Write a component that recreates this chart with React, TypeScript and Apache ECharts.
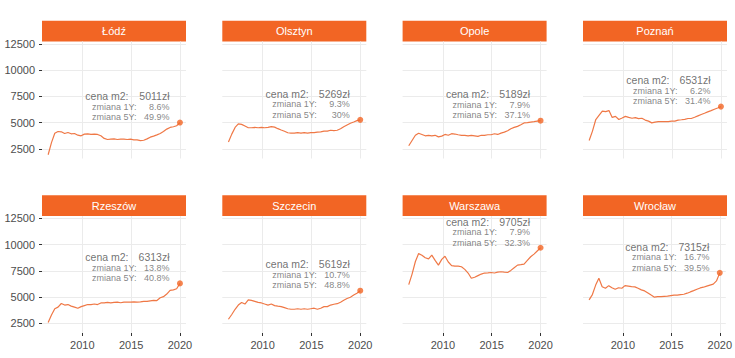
import React, { useEffect, useRef } from 'react';
import * as echarts from 'echarts';

const CITIES = ['Łódź', 'Olsztyn', 'Opole', 'Poznań', 'Rzeszów', 'Szczecin', 'Warszawa', 'Wrocław'];

const DATES = [
  2006.50, 2006.84, 2007.18, 2007.51, 2007.85, 2008.19, 2008.53, 2008.86, 2009.20, 2009.54,
  2009.88, 2010.21, 2010.55, 2010.89, 2011.23, 2011.56, 2011.90, 2012.24, 2012.58, 2012.91,
  2013.25, 2013.59, 2013.93, 2014.26, 2014.60, 2014.94, 2015.28, 2015.61, 2015.95, 2016.29,
  2016.63, 2016.96, 2017.30, 2017.64, 2017.98, 2018.31, 2018.65, 2018.99, 2019.33, 2019.66,
  2020.00,
];

const LODZ = [1950, 3100, 4000, 4160, 4130, 3970, 4070, 3940, 3970, 3810, 3750, 3910, 3940, 3880, 3910, 3880, 3750, 3500, 3400, 3430, 3460, 3400, 3430, 3430, 3400, 3430, 3370, 3370, 3300, 3330, 3460, 3620, 3720, 3840, 3970, 4160, 4390, 4550, 4610, 4710, 5011];
const OLSZTYN = [3170, 3910, 4550, 4880, 4840, 4680, 4520, 4520, 4550, 4520, 4550, 4520, 4550, 4620, 4580, 4430, 4300, 4190, 4040, 4000, 4000, 4060, 4000, 4060, 4000, 4060, 4060, 4100, 4130, 4190, 4190, 4280, 4250, 4280, 4420, 4620, 4780, 4940, 5070, 5200, 5269];
const OPOLE = [2800, 3300, 3800, 4000, 3880, 3750, 3800, 3750, 3800, 3650, 3720, 3880, 3800, 3950, 3920, 3850, 3800, 3800, 3750, 3800, 3750, 3700, 3800, 3800, 3850, 3850, 3950, 3880, 4010, 4100, 4230, 4420, 4550, 4650, 4800, 4980, 5000, 5050, 5100, 5150, 5189];
const POZNAN = [3300, 4200, 5300, 5700, 6100, 6050, 6150, 5500, 5600, 5300, 5450, 5600, 5500, 5420, 5480, 5380, 5420, 5250, 5150, 4980, 5050, 5100, 5100, 5100, 5100, 5150, 5150, 5250, 5280, 5320, 5400, 5400, 5520, 5650, 5780, 5900, 6030, 6150, 6280, 6400, 6531];
const RZESZOW = [2600, 3300, 3900, 4050, 4400, 4250, 4300, 4150, 4050, 3950, 4100, 4200, 4300, 4300, 4350, 4300, 4450, 4450, 4500, 4450, 4500, 4530, 4470, 4530, 4530, 4530, 4560, 4530, 4560, 4600, 4600, 4650, 4700, 4680, 4950, 5050, 5300, 5650, 5700, 5800, 6313];
const SZCZECIN = [2900, 3350, 3850, 4250, 4500, 4350, 4750, 4700, 4600, 4500, 4450, 4350, 4250, 4350, 4200, 4150, 4100, 4000, 3900, 3850, 3850, 3900, 3850, 3900, 3850, 3900, 3950, 3850, 3950, 4100, 4100, 4250, 4330, 4380, 4520, 4700, 4870, 5000, 5200, 5380, 5619];
const WARSZAWA = [6200, 7200, 8400, 9150, 9000, 8750, 8650, 9000, 8500, 8050, 8600, 8900, 8350, 8000, 7950, 7950, 7900, 7650, 7300, 6800, 6900, 7050, 7200, 7300, 7320, 7350, 7300, 7380, 7420, 7380, 7350, 7550, 7800, 8050, 8100, 8150, 8500, 8850, 9100, 9400, 9705];
const WROCLAW = [4750, 5250, 6150, 6800, 6000, 5850, 6100, 5900, 5750, 5900, 5850, 6100, 6050, 6000, 5980, 5850, 5700, 5600, 5400, 5200, 5000, 5050, 5050, 5080, 5100, 5150, 5200, 5200, 5250, 5280, 5380, 5500, 5620, 5750, 5880, 5950, 6050, 6150, 6250, 6550, 7315];

const SERIES = [LODZ, OLSZTYN, OPOLE, POZNAN, RZESZOW, SZCZECIN, WARSZAWA, WROCLAW];

const PRICE_LABELS = ['5011zł', '5269zł', '5189zł', '6531zł', '6313zł', '5619zł', '9705zł', '7315zł'];
const CHANGE_1Y = ['8.6%', '9.3%', '7.9%', '6.2%', '13.8%', '10.7%', '7.9%', '16.7%'];
const CHANGE_5Y = ['49.9%', '30%', '37.1%', '31.4%', '40.8%', '48.8%', '32.3%', '39.5%'];

const Y_TICKS = [2500, 5000, 7500, 10000, 12500];
const X_TICKS = [2010, 2015, 2020];

// layout (pixels)
const COL_LEFT = [42, 222.3, 402.6, 583];
const ROW_TOP = [41.5, 216];
const PANEL_W = 144;
const PANEL_H = 117;
const STRIP_H = 20.7;

const X_MIN = 2005.87;
const X_MAX = 2020.62;
const Y_MIN = 1590;
const Y_MAX = 12730;
const ANNOT_X = 2018.93;

const FONT = "'Liberation Sans', Arial, sans-serif";
const STRIP_COLOR = '#F26524';
const LINE_COLOR = '#EF7846';
const POINT_COLOR = '#F26524';
const GRID_COLOR = '#EBEBEB';

export default function App() {
  const ref = useRef<HTMLDivElement>(null);

  useEffect(() => {
    if (!ref.current) return;
    const chart = echarts.init(ref.current, undefined, { renderer: 'svg' });

    const grids: any[] = [];
    const xAxes: any[] = [];
    const yAxes: any[] = [];
    const series: any[] = [];
    const graphics: any[] = [];

    CITIES.forEach((city, i) => {
      const col = i % 4;
      const row = Math.floor(i / 4);
      const vals = SERIES[i];
      const last = vals[vals.length - 1];
      const lastDate = DATES[DATES.length - 1];

      grids.push({
        left: COL_LEFT[col],
        top: ROW_TOP[row],
        width: PANEL_W,
        height: PANEL_H,
        containLabel: false,
      });

      xAxes.push({
        type: 'value',
        gridIndex: i,
        min: X_MIN,
        max: X_MAX,
        axisLine: { show: true, lineStyle: { color: 'rgba(0,0,0,0)' } },
        splitLine: { show: false },
        axisTick: {
          show: row === 1,
          length: 3,
          customValues: X_TICKS,
          lineStyle: { color: '#333333', width: 1 },
        },
        axisLabel: {
          show: row === 1,
          customValues: X_TICKS,
          margin: 6,
          fontSize: 11,
          color: '#4D4D4D',
          fontFamily: FONT,
          formatter: (v: number) => String(v),
        },
      });

      yAxes.push({
        type: 'value',
        gridIndex: i,
        min: Y_MIN,
        max: Y_MAX,
        axisLine: { show: true, lineStyle: { color: 'rgba(0,0,0,0)' } },
        splitLine: { show: false },
        axisTick: {
          show: col === 0,
          length: 3,
          customValues: Y_TICKS,
          lineStyle: { color: '#333333', width: 1 },
        },
        axisLabel: {
          show: col === 0,
          customValues: Y_TICKS,
          margin: 7,
          fontSize: 11,
          color: '#4D4D4D',
          fontFamily: FONT,
          formatter: (v: number) => String(v),
        },
      });

      series.push({
        type: 'line',
        xAxisIndex: i,
        yAxisIndex: i,
        data: DATES.map((d, j) => [d, vals[j]]),
        showSymbol: false,
        symbol: 'none',
        lineStyle: { color: LINE_COLOR, width: 1.2 },
        z: 3,
        silent: true,
        markLine: {
          silent: true,
          symbol: 'none',
          z: 1,
          label: { show: false },
          lineStyle: { color: GRID_COLOR, width: 1, type: 'solid' },
          data: [
            ...Y_TICKS.map((v) => ({ yAxis: v })),
            ...X_TICKS.map((v) => ({ xAxis: v })),
          ],
        },
      });

      series.push({
        type: 'scatter',
        xAxisIndex: i,
        yAxisIndex: i,
        data: [[lastDate, last]],
        symbolSize: 6,
        itemStyle: { color: POINT_COLOR },
        z: 4,
        silent: true,
      });

      const texts = [
        `{cl|cena m2:}{cv|${PRICE_LABELS[i]}}`,
        `{zl|zmiana 1Y:}{zv|${CHANGE_1Y[i]}}`,
        `{zl|zmiana 5Y:}{zv|${CHANGE_5Y[i]}}`,
      ];
      series.push({
        type: 'scatter',
        xAxisIndex: i,
        yAxisIndex: i,
        data: [
          [ANNOT_X, last + 2500],
          [ANNOT_X, last + 1500],
          [ANNOT_X, last + 500],
        ],
        symbolSize: 0,
        itemStyle: { color: 'transparent' },
        silent: true,
        z: 5,
        label: {
          show: true,
          position: 'left',
          distance: 0,
          formatter: (p: any) => texts[p.dataIndex],
          rich: {
            cl: { fontSize: 10.5, color: '#4D4D4D', fontFamily: FONT },
            cv: { fontSize: 10.5, color: '#4D4D4D', fontFamily: FONT, width: 41, align: 'right' },
            zl: { fontSize: 9, color: '#666666', fontFamily: FONT },
            zv: { fontSize: 9, color: '#666666', fontFamily: FONT, width: 33, align: 'right' },
          },
        },
      });

      graphics.push({
        type: 'rect',
        shape: {
          x: COL_LEFT[col],
          y: ROW_TOP[row] - STRIP_H,
          width: PANEL_W,
          height: STRIP_H,
        },
        style: { fill: STRIP_COLOR },
        silent: true,
      });
      graphics.push({
        type: 'text',
        x: COL_LEFT[col] + PANEL_W / 2,
        y: ROW_TOP[row] - STRIP_H / 2,
        style: {
          text: city,
          fill: '#FFFFFF',
          fontSize: 11,
          fontFamily: FONT,
          align: 'center',
          verticalAlign: 'middle',
        },
        silent: true,
      });
    });

    chart.setOption({
      animation: false,
      backgroundColor: '#FFFFFF',
      grid: grids,
      xAxis: xAxes,
      yAxis: yAxes,
      series,
      graphic: graphics,
    });

    return () => {
      chart.dispose();
    };
  }, []);

  return (
    <div
      ref={ref}
      style={{ position: 'fixed', left: 0, top: 0, width: 735, height: 358, background: '#fff' }}
    />
  );
}
